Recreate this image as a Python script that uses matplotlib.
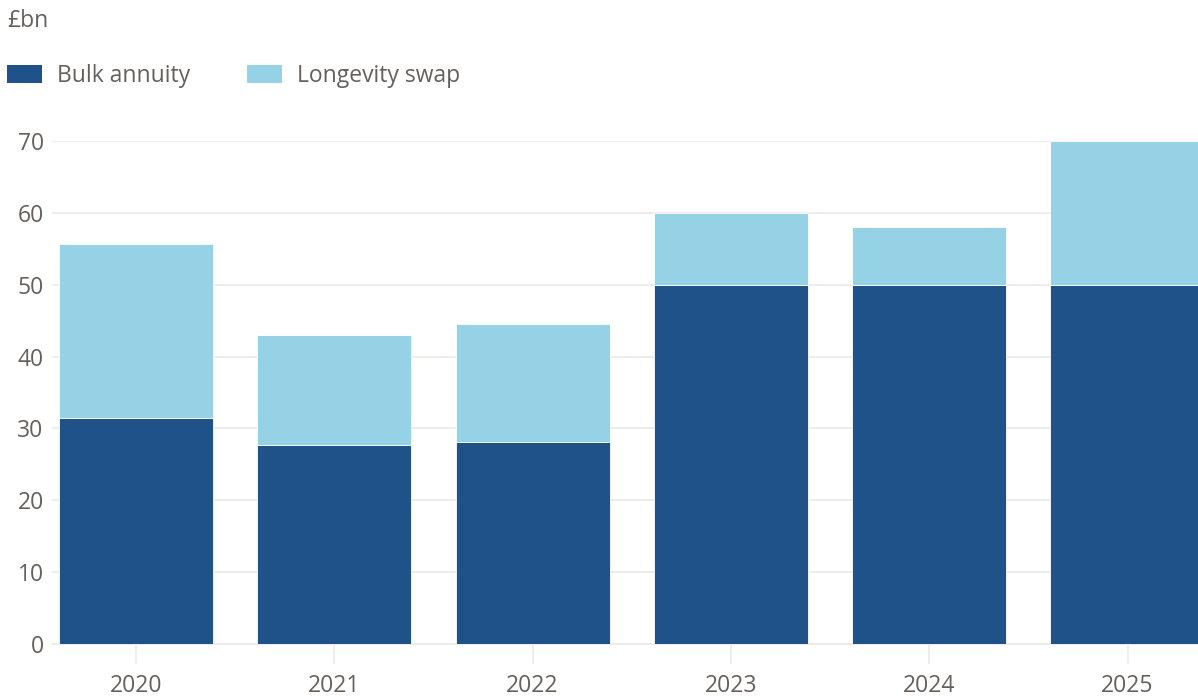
import numpy as np
import matplotlib
matplotlib.use("Agg")
import matplotlib.pyplot as plt
from matplotlib.patches import Patch

years = ["2020", "2021", "2022", "2023", "2024", "2025"]
bulk_annuity = [31.4, 27.7, 28.1, 50.0, 50.0, 50.0]
longevity_swap = [24.3, 15.3, 16.4, 10.0, 8.0, 20.0]

DARK = "#1f5289"
LIGHT = "#96d2e5"
TEXT = "#66605c"
GRID = "#ece9e6"

plt.rcParams['font.family'] = ['Open Sans', 'DejaVu Sans']
FS = 16.5

W, H = 1198, 696
fig = plt.figure(figsize=(W / 100, H / 100), dpi=100)

# axes placed in pixel terms: left edge 52px, zero line at 644px, 70 at 141px
ax = fig.add_axes([52 / W, (H - 644) / H, (W - 52) / W, (644 - 141) / H])

x = np.arange(len(years))
width = 0.777
ax.bar(x, bulk_annuity, width, color=DARK, edgecolor="white", linewidth=0.6, zorder=3)
ax.bar(x, longevity_swap, width, bottom=bulk_annuity, color=LIGHT,
       edgecolor="white", linewidth=0.6, zorder=3)

ax.set_xlim((52 - 136) / 198.3, (W - 136) / 198.3)
ax.set_ylim(0, 70)
ax.set_yticks(range(0, 71, 10))
ax.set_xticks(x)
ax.set_xticklabels(years)

ax.grid(axis="y", color=GRID, linewidth=1.2, zorder=0)
for s in ["top", "right", "left"]:
    ax.spines[s].set_visible(False)
ax.spines["bottom"].set_color(GRID)
ax.spines["bottom"].set_linewidth(1.2)

ax.tick_params(axis="y", length=0, pad=6, labelsize=FS, labelcolor=TEXT)
ax.tick_params(axis="x", length=14.5, width=1.2, color=GRID, pad=7,
               labelsize=FS, labelcolor=TEXT)

fig.text(7 / W, 1 - 21 / H, "£bn", fontsize=FS, color=TEXT, va="center", ha="left")

handles = [Patch(facecolor=DARK, label="Bulk annuity"),
           Patch(facecolor=LIGHT, label="Longevity swap")]
fig.legend(handles=handles, loc="center left", bbox_to_anchor=(2 / W, 1 - 76 / H),
           ncol=2, frameon=False, fontsize=FS, labelcolor=TEXT,
           handlelength=1.53, handleheight=0.79, handletextpad=0.65,
           columnspacing=2.5, borderaxespad=0, borderpad=0.2)

fig.savefig("out.png", dpi=100)
